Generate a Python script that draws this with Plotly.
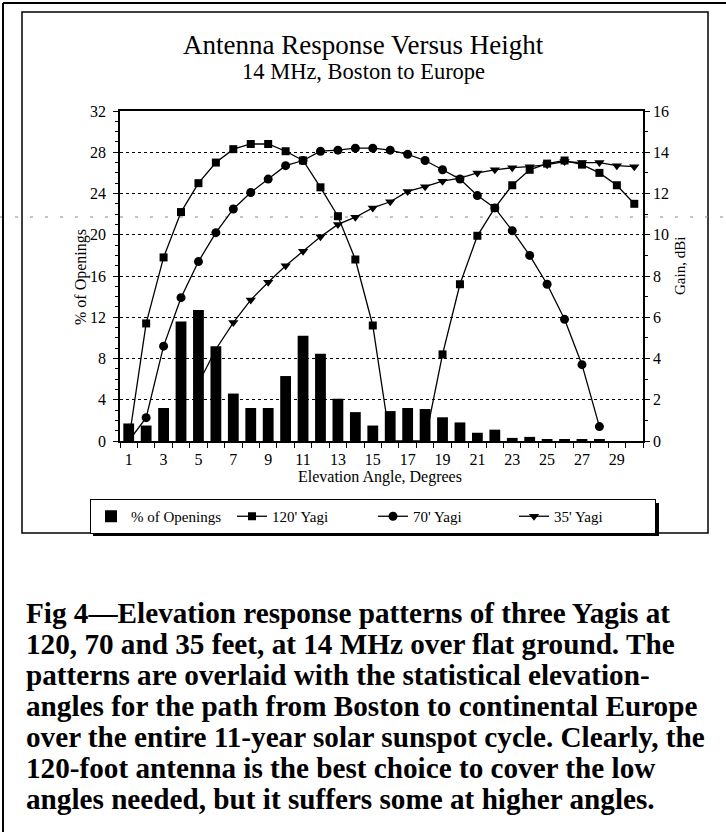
import plotly.graph_objects as go

# ---------------- data ----------------
angles = list(range(1, 31))
openings_pct = [1.7, 1.5, 3.2, 11.6, 12.7, 9.2, 4.6, 3.2, 3.2, 6.3,
                10.2, 8.45, 4.1, 2.8, 1.5, 2.9, 3.2, 3.1, 2.3, 1.8,
                0.8, 1.1, 0.3, 0.4, 0.1, 0.1, 0.1, 0.15, 0.0, 0.0]
yagi_120 = [0, 5.7, 8.9, 11.1, 12.5, 13.5, 14.15, 14.4, 14.4, 14.05,
            13.6, 12.3, 10.9, 8.8, 5.6, 0, 0, 0, 4.2, 7.6,
            9.95, 11.3, 12.4, 13.15, 13.45, 13.6, 13.4, 13.0, 12.4, 11.5]
yagi_70 = [0, 1.13, 4.6, 6.95, 8.7, 10.1, 11.25, 12.05, 12.7, 13.35,
           13.6, 14.05, 14.1, 14.2, 14.2, 14.1, 13.9, 13.6, 13.15, 12.7,
           11.9, 11.3, 10.2, 9.0, 7.6, 5.9, 3.7, 0.7, None, None]
yagi_35 = [None, None, None, None, 2.8, 4.45, 5.74, 6.84, 7.7, 8.5,
           9.2, 9.9, 10.5, 10.85, 11.3, 11.6, 12.1, 12.33, 12.6, 12.75,
           13.0, 13.15, 13.25, 13.3, 13.4, 13.55, 13.5, 13.5, 13.35, 13.3]
x_tick_vals = list(range(1, 31, 2))
x_tick_text = [str(v) for v in x_tick_vals]
left_ticks = list(range(0, 33, 4))
right_ticks = list(range(0, 17, 2))

title_1 = "Antenna Response Versus Height"
title_2 = "14 MHz, Boston to Europe"
x_title = "Elevation Angle, Degrees"
left_title = "% of Openings"
right_title = "Gain, dBi"
caption_lines = [
    "Fig 4\u2014Elevation response patterns of three Yagis at",
    "120, 70 and 35 feet, at 14 MHz over flat ground. The",
    "patterns are overlaid with the statistical elevation-",
    "angles for the path from Boston to continental Europe",
    "over the entire 11-year solar sunspot cycle. Clearly, the",
    "120-foot antenna is the best choice to cover the low",
    "angles needed, but it suffers some at higher angles.",
]

# ---------------- layout helpers ----------------
W, H = 726, 832
L, R, T, B = 120, 83, 111, 391
PW, PH = W - L - R, H - T - B
SERIF = "Liberation Serif, Times New Roman, serif"


def px(xp):
    return (xp - L) / PW


def py(yp):
    return (H - B - yp) / PH


fig = go.Figure()

fig.add_trace(go.Bar(
    x=angles, y=openings_pct, name="% of Openings", yaxis="y2",
    marker=dict(color="black", line=dict(width=0)), width=0.62,
))
line_style = dict(color="black", width=1.3)
fig.add_trace(go.Scatter(
    x=angles, y=yagi_120, name="120' Yagi", mode="lines+markers",
    line=line_style, marker=dict(symbol="square", size=8, color="black"),
))
fig.add_trace(go.Scatter(
    x=angles, y=yagi_70, name="70' Yagi", mode="lines+markers",
    line=line_style, marker=dict(symbol="circle", size=9, color="black"),
))
fig.add_trace(go.Scatter(
    x=angles, y=yagi_35, name="35' Yagi", mode="lines+markers",
    line=line_style, marker=dict(symbol="triangle-down", size=9, color="black"),
))

tickfont = dict(family=SERIF, size=16, color="black")

fig.update_layout(
    width=W, height=H,
    margin=dict(l=L, r=R, t=T, b=B, autoexpand=False),
    paper_bgcolor="white", plot_bgcolor="white",
    font=dict(family=SERIF, color="black"),
    xaxis=dict(
        range=[0.5, 30.5], tickmode="array", tickvals=x_tick_vals, ticktext=x_tick_text,
        ticks="outside", ticklen=3, tickcolor="rgba(0,0,0,0)",
        showline=True, linecolor="black", linewidth=1.5, mirror=True,
        showgrid=False, zeroline=False, tickfont=tickfont,
        minor=dict(tickmode="linear", tick0=0.5, dtick=1, ticks="outside",
                   ticklen=5, tickcolor="black", tickwidth=1.2, showgrid=False),
    ),
    yaxis=dict(
        range=[0, 16], side="right", tickmode="array", tickvals=right_ticks,
        ticks="outside", ticklen=5, tickcolor="black", tickwidth=1.2,
        showline=True, linecolor="black", linewidth=1.5,
        showgrid=True, gridcolor="black", griddash="dot", gridwidth=1.2,
        zeroline=False, tickfont=tickfont,
        minor=dict(tickmode="linear", tick0=0, dtick=1, ticks="outside",
                   ticklen=3, tickcolor="black", showgrid=False),
    ),
    yaxis2=dict(
        range=[0, 32], side="left", overlaying="y", anchor="x",
        tickmode="array", tickvals=left_ticks,
        ticks="outside", ticklen=5, tickcolor="black", tickwidth=1.2,
        showline=True, linecolor="black", linewidth=1.5,
        showgrid=False, zeroline=False, tickfont=tickfont,
        ticklabelstandoff=4,
        minor=dict(tickmode="linear", tick0=0, dtick=1, ticks="outside",
                   ticklen=3, tickcolor="black", showgrid=False),
    ),
    legend=dict(
        orientation="h", x=px(90), y=py(499), xanchor="left", yanchor="top",
        bordercolor="black", borderwidth=1, bgcolor="white",
        font=dict(family=SERIF, size=15, color="black"),
        entrywidth=96, entrywidthmode="pixels", itemwidth=30,
    ),
    showlegend=True,
)

annotations = [
    dict(text=title_1, x=px(363), y=py(45), xref="paper", yref="paper",
         xanchor="center", yanchor="middle", showarrow=False,
         font=dict(family=SERIF, size=27, color="black")),
    dict(text=title_2, x=px(363), y=py(71), xref="paper", yref="paper",
         xanchor="center", yanchor="middle", showarrow=False,
         font=dict(family=SERIF, size=22.5, color="black")),
    dict(text=x_title, x=px(380), y=py(477), xref="paper", yref="paper",
         xanchor="center", yanchor="middle", showarrow=False,
         font=dict(family=SERIF, size=16, color="black")),
    dict(text=left_title, x=px(81), y=py(277), xref="paper", yref="paper",
         xanchor="center", yanchor="middle", showarrow=False, textangle=-90,
         font=dict(family=SERIF, size=16, color="black")),
    dict(text=right_title, x=px(680), y=py(266), xref="paper", yref="paper",
         xanchor="center", yanchor="middle", showarrow=False, textangle=-90,
         font=dict(family=SERIF, size=15, color="black")),
]
for i, line in enumerate(caption_lines):
    annotations.append(dict(
        text="<b>" + line + "</b>", x=px(24), y=py(613 + 31 * i), xref="paper", yref="paper",
        xanchor="left", yanchor="middle", showarrow=False,
        font=dict(family=SERIF, size=29.2, color="black")))
fig.update_layout(annotations=annotations)

shapes = [
    # inner chart frame
    dict(type="rect", xref="paper", yref="paper", x0=px(22), x1=px(708), y0=py(533), y1=py(12),
         line=dict(color="black", width=1.5), layer="below"),
    # legend drop shadow
    dict(type="rect", xref="paper", yref="paper", x0=px(93), x1=px(659), y0=py(536), y1=py(503),
         line=dict(width=0), fillcolor="black", layer="above"),
    # outer page frame (top + left)
    dict(type="line", xref="paper", yref="paper", x0=px(3), x1=px(726), y0=py(3), y1=py(3),
         line=dict(color="black", width=2)),
    dict(type="line", xref="paper", yref="paper", x0=px(3), x1=px(3), y0=py(3), y1=py(832),
         line=dict(color="black", width=2)),
    # faint scan line
    dict(type="line", xref="paper", yref="paper", x0=px(0), x1=px(726), y0=py(217), y1=py(217),
         line=dict(color="#888888", width=1, dash="3px,12px"), layer="below"),
]
fig.update_layout(shapes=shapes)

fig.write_html(
    "out.html",
    config={"displayModeBar": False},
    post_script="document.body.style.margin='0px';document.body.style.overflow='hidden';",
)
